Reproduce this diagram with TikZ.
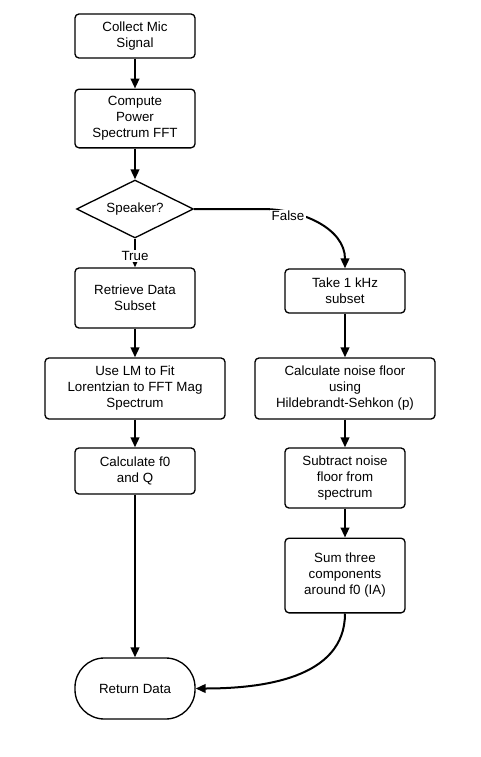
\documentclass[tikz,border=0pt]{standalone}
\usepackage{fontspec}
\setmainfont{Liberation Sans}
\usetikzlibrary{shapes.geometric,arrows.meta}

\begin{document}
\begin{tikzpicture}[
              x=0.75pt,y=-0.75pt,
              every node/.style={font=\fontsize{10}{12}\selectfont, align=center},
              box/.style={draw, line width=1pt, rounded corners=3pt, minimum width=90pt, inner sep=2pt},
              widebox/.style={box, minimum width=135pt},
              decision/.style={draw, line width=1pt, diamond, aspect=2, inner sep=0pt, minimum width=87.75pt, minimum height=43.5pt},
              terminal/.style={draw, line width=1pt, rounded corners=22pt, minimum width=90pt, minimum height=45.75pt},
              flow/.style={line width=1.5pt, -{Triangle[length=7.5pt,width=6.5pt]}},
              tag/.style={fill=white, inner sep=1pt}
            ]
              \useasboundingbox (0,0) rectangle (481,757);
              \node[box, minimum height=33pt] (collect) at (135,36) {Collect Mic\\Signal};
              \node[box, minimum height=44pt] (power) at (135,118.5) {Compute\\Power\\Spectrum FFT};
              \node[decision] (speaker) at (135,209) {Speaker?};
              \node[box, minimum height=45pt] (retrieve) at (135,298) {Retrieve Data\\Subset};
              \node[widebox, minimum height=45.75pt] (fit) at (135,388.5) {Use LM to Fit\\Lorentzian to FFT Mag\\Spectrum};
              \node[box, minimum height=34.5pt] (calcq) at (135,471) {Calculate f0\\and Q};
              \node[terminal] (ret) at (135,688.5) {Return Data};
              \node[box, minimum height=33pt] (subset) at (345,291) {Take 1 kHz\\subset};
              \node[widebox, minimum height=45.75pt] (noise) at (345,388.5) {Calculate noise floor\\using\\Hildebrandt-Sehkon (p)};
              \node[box, minimum height=45pt] (subtract) at (345,478) {Subtract noise\\floor from\\spectrum};
              \node[box, minimum height=56pt] (sum) at (345,575.5) {Sum three\\components\\around f0 (IA)};
              \coordinate (bend) at (262,209);
              \draw[flow] (collect) -- (power);
              \draw[flow] (power) -- (speaker);
              \draw[flow] (speaker) -- (retrieve);
              \draw[flow] (retrieve) -- (fit);
              \draw[flow] (fit) -- (calcq);
              \draw[flow] (calcq) -- (ret);
              \draw[flow] (speaker.east) -- (bend) to[out=0,in=90] (subset.north);
              \draw[flow] (subset) -- (noise);
              \draw[flow] (noise) -- (subtract);
              \draw[flow] (subtract) -- (sum);
              \draw[flow] (sum.south) to[out=-90,in=0] (ret.east);
              \node[tag] (truelabel) at (135,256) {True};
              \node[tag] (falselabel) at (288,216) {False};
            \end{tikzpicture}
\end{document}
